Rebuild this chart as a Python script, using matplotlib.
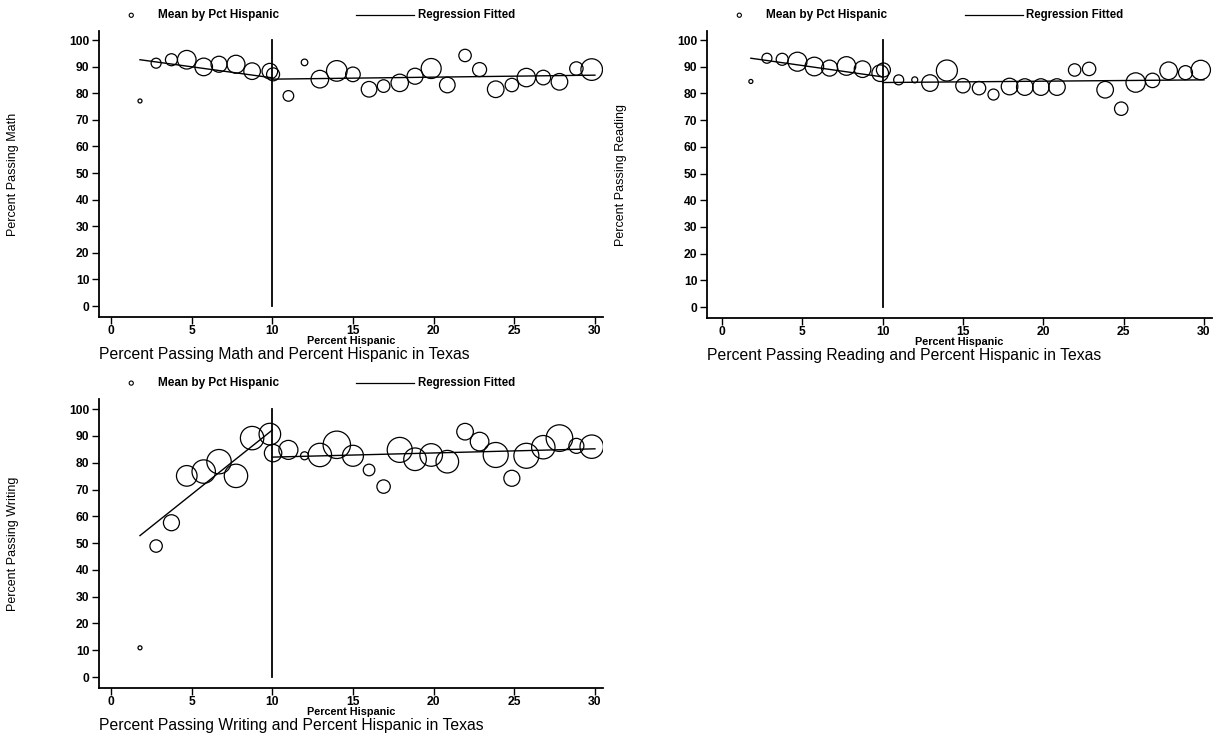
import numpy as np
import matplotlib
matplotlib.use('Agg')
import matplotlib.pyplot as plt

plt.rcParams['font.family'] = ['Liberation Sans', 'DejaVu Sans']

# Percent Hispanic bins (x positions of the means)
pct_hisp = [1.8, 2.8, 3.75, 4.7, 5.75, 6.7, 7.75, 8.75, 9.85, 10.05,
            11.0, 12.0, 12.95, 14.0, 15.0, 16.0, 16.9, 17.9, 18.85, 19.85,
            20.85, 21.95, 22.85, 23.85, 24.85, 25.75, 26.8, 27.8, 28.85, 29.8]

math_mean = [77.1, 91.3, 92.6, 92.6, 89.9, 90.9, 90.9, 88.3, 88.3, 87.1,
             79.0, 91.6, 85.3, 88.4, 87.1, 81.5, 82.7, 83.9, 86.4, 89.3,
             83.1, 94.2, 88.9, 81.5, 83.1, 85.9, 85.9, 84.3, 89.3, 88.9]
math_w = [2, 5, 6, 9.3, 8.8, 8, 9, 8.3, 7.8, 6.5,
          5.3, 3.3, 8.8, 10.3, 7.3, 7.8, 6.3, 8.7, 8, 10,
          7.8, 6.2, 7, 8.3, 6.7, 9.2, 7.3, 8.3, 6.7, 10.8]

read_mean = [84.5, 93.2, 92.8, 91.9, 90.1, 89.5, 90.3, 89.1, 87.6, 88.8,
             85.1, 85.1, 83.9, 88.6, 82.9, 82.0, 79.6, 82.6, 82.4, 82.4,
             82.4, 88.8, 89.2, 81.4, 74.3, 84.1, 84.9, 88.5, 87.8, 88.8]
read_w = [2, 5, 6, 9.5, 9.3, 8, 9.3, 8.3, 8.3, 7,
          5, 3, 8.3, 10.5, 7.2, 6.7, 5.5, 8.3, 8.3, 8.3,
          8.3, 6.2, 6.7, 8.3, 6.7, 9.7, 7.2, 8.8, 7, 9.7]

write_mean = [10.9, 48.9, 57.6, 75.1, 76.7, 80.4, 75.1, 89.2, 90.7, 83.6,
              84.8, 82.6, 82.9, 86.7, 82.6, 77.3, 71.1, 84.8, 81.3, 82.9,
              80.4, 91.6, 87.9, 82.9, 74.2, 82.6, 85.8, 89.2, 86.3, 86.0]
write_w = [2, 6.2, 8, 10.3, 11.7, 12.2, 11.7, 11.7, 10.8, 8.7,
           9.5, 4, 11.7, 13.7, 10.5, 5.8, 6.7, 12.5, 11.3, 11.3,
           11.3, 8.3, 9.3, 12.5, 8, 12.5, 11.7, 13.3, 7.5, 11.7]

# fitted regression endpoints: (x0, y0, x1, y1) left of and right of cutoff
math_fit = [(1.8, 92.6, 10, 85.8), (10, 85.3, 30, 86.8)]
read_fit = [(1.8, 93.2, 10, 86.2), (10, 84.1, 30, 85.1)]
write_fit = [(1.8, 52.8, 10, 92.2), (10, 82.1, 30, 85.2)]

cutoff = 10
xticks = [0, 5, 10, 15, 20, 25, 30]
yticks = list(range(0, 101, 10))

W, H = 1220, 742
fig = plt.figure(figsize=(W / 100, H / 100), dpi=100)


def panel(rect, y, w, fit, ylabel, title, xlim, ylim):
    ax = fig.add_axes(rect)
    s = (1.44 * np.array(w)) ** 2
    ax.scatter(pct_hisp, y, s=s, facecolors='none', edgecolors='black',
               linewidths=0.9, zorder=3)
    for x0, y0, x1, y1 in fit:
        ax.plot([x0, x1], [y0, y1], color='black', lw=1.0, zorder=2)
    ax.plot([cutoff, cutoff], [0, 100], color='black', lw=1.3, zorder=2)

    ax.set_xlim(*xlim)
    ax.set_ylim(*ylim)
    ax.set_xticks(xticks)
    ax.set_yticks(yticks)
    ax.spines['top'].set_visible(False)
    ax.spines['right'].set_visible(False)
    for sp in ('left', 'bottom'):
        ax.spines[sp].set_linewidth(1.3)
    ax.tick_params(direction='out', length=5, width=1.0, labelsize=8.7)
    for lab in ax.get_xticklabels() + ax.get_yticklabels():
        lab.set_fontweight('bold')
    ax.tick_params(axis='x', pad=1)
    ax.tick_params(axis='y', pad=2)

    ax.set_xlabel('Percent Hispanic', fontsize=7.8, fontweight='bold', labelpad=-1)
    ax.set_ylabel(ylabel, fontsize=9)
    ax.yaxis.set_label_coords(-0.158, 0.5)
    ax.text(0, -0.13, title, transform=ax.transAxes, fontsize=11.3,
            ha='left', va='center')

    # legend drawn above the plot area
    ly = 1.055
    ax.scatter([0.064], [ly], s=9, facecolors='none', edgecolors='black',
               linewidths=0.8, transform=ax.transAxes, clip_on=False)
    ax.text(0.117, ly, 'Mean by Pct Hispanic', transform=ax.transAxes,
            fontsize=8.5, fontweight='bold', va='center', ha='left')
    ax.plot([0.51, 0.625], [ly, ly], color='black', lw=0.9,
            transform=ax.transAxes, clip_on=False)
    ax.text(0.632, ly, 'Regression Fitted', transform=ax.transAxes,
            fontsize=8.3, fontweight='bold', va='center', ha='left')
    return ax


panel([99 / W, 1 - 317 / H, 504 / W, 286 / H], math_mean, math_w, math_fit,
      'Percent Passing Math', 'Percent Passing Math and Percent Hispanic in Texas',
      (-0.74, 30.5), (-4.1, 103.4))
panel([707 / W, 1 - 318 / H, 505 / W, 287 / H], read_mean, read_w, read_fit,
      'Percent Passing Reading', 'Percent Passing Reading and Percent Hispanic in Texas',
      (-0.93, 30.5), (-4.1, 103.4))
panel([99 / W, 1 - 688 / H, 504 / W, 289 / H], write_mean, write_w, write_fit,
      'Percent Passing Writing', 'Percent Passing Writing and Percent Hispanic in Texas',
      (-0.74, 30.5), (-4.1, 103.8))

fig.savefig('out.png', dpi=100)
